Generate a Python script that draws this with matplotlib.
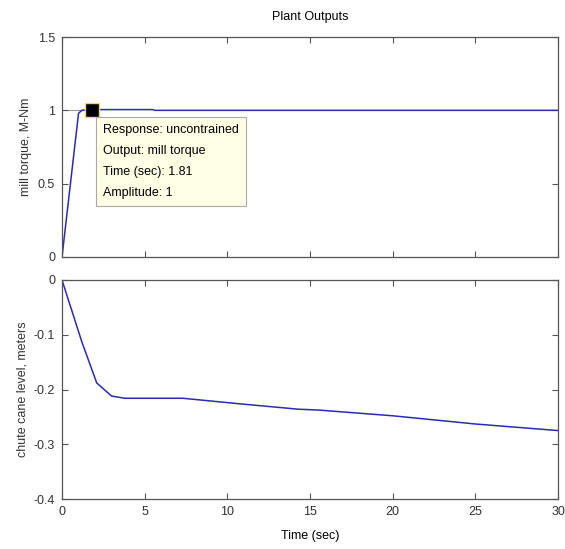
import matplotlib
matplotlib.use("Agg")
import matplotlib.pyplot as plt

plt.rcParams['font.family'] = ['Liberation Sans', 'DejaVu Sans']

# mill torque response
t_torque = [0, 1.0, 1.2, 1.81, 3.0, 5.5, 5.6, 30]
torque = [0, 0.98, 1.0, 1.005, 1.005, 1.005, 1.0, 1.0]

# chute cane level response
t_level = [0, 1.2, 2.1, 3.0, 3.8, 7.3, 10.7, 14.3, 15.5, 20, 25, 30]
level = [0, -0.113, -0.188, -0.212, -0.216, -0.216, -0.226, -0.236, -0.2375, -0.248, -0.263, -0.275]

tip_t, tip_y = 1.81, 1.0
tip_text = "Response: uncontrained\nOutput: mill torque\nTime (sec): 1.81\nAmplitude: 1"

fig = plt.figure(figsize=(5.65, 5.49), dpi=100)
fig.patch.set_facecolor('white')
W, H = 565.0, 549.0
ax1 = fig.add_axes([62 / W, 1 - 257 / H, 496 / W, 220 / H])
ax2 = fig.add_axes([62 / W, 1 - 499 / H, 496 / W, 219 / H])

line_col = '#2a2ab8'
box_col = '#555555'

for ax in (ax1, ax2):
    for s in ax.spines.values():
        s.set_color(box_col)
        s.set_linewidth(0.9)
    ax.tick_params(direction='in', top=True, right=True, length=4, color=box_col,
                   labelsize=9, labelcolor='#333333', pad=5)
    ax.set_xlim(0, 30)
    ax.set_xticks([0, 5, 10, 15, 20, 25, 30])

ax1.plot(t_torque, torque, color=line_col, lw=1.1)
ax1.set_ylim(0, 1.5)
ax1.set_yticks([0, 0.5, 1, 1.5])
ax1.set_yticklabels(['0', '0.5', '1', '1.5'])
ax1.tick_params(labelbottom=False)
ax1.set_ylabel('mill torque, M-Nm', fontsize=9, color='#333333', labelpad=4)
ax1.set_title('Plant Outputs', fontsize=9, pad=12)

# data tip
ax1.plot([0, tip_t], [tip_y, tip_y], color='#999999', lw=0.8, zorder=1)
ax1.plot(tip_t, tip_y, marker='s', ms=10, mfc='black', mec='#e8d870', mew=1, zorder=5)
ax1.text(2.5, 0.905, tip_text, fontsize=9, va='top', ha='left', linespacing=2.0,
         bbox=dict(boxstyle='square,pad=0.55', fc='#ffffe6', ec='#aaaaaa', lw=0.8), zorder=6)

ax2.plot(t_level, level, color=line_col, lw=1.1)
ax2.set_ylim(-0.4, 0)
ax2.set_yticks([-0.4, -0.3, -0.2, -0.1, 0])
ax2.set_yticklabels(['-0.4', '-0.3', '-0.2', '-0.1', '0'])
ax2.set_ylabel('chute cane level, meters', fontsize=9, color='#333333', labelpad=4)
ax2.set_xlabel('Time (sec)', fontsize=9, labelpad=9)

fig.savefig('out.png', dpi=100)
